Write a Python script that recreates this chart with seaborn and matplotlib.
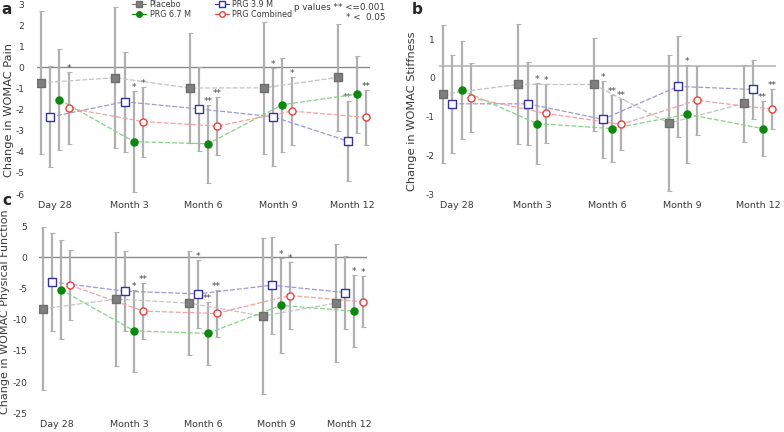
import matplotlib
matplotlib.use("Agg")
import matplotlib.pyplot as plt
from matplotlib.lines import Line2D
import seaborn as sns
import pandas as pd

visits = ["Day 28", "Month 3", "Month 6", "Month 9", "Month 12"]
groups = ["Placebo", "PRG 3.9 M", "PRG 6.7 M", "PRG Combined"]

# a: WOMAC Pain (mean change, SD)
pain_placebo = [-0.73, -0.49, -0.98, -0.97, -0.47]
pain_placebo_sd = [3.38, 3.34, 2.60, 3.12, 2.54]
pain_prg39 = [-2.35, -1.63, -1.97, -2.34, -3.49]
pain_prg39_sd = [2.39, 2.38, 2.00, 2.32, 1.90]
pain_prg67 = [-1.53, -3.52, -3.62, -1.77, -1.27]
pain_prg67_sd = [2.40, 2.40, 1.84, 2.23, 1.83]
pain_comb = [-1.93, -2.57, -2.78, -2.07, -2.37]
pain_comb_sd = [1.70, 1.66, 1.37, 1.59, 1.30]
pain_stars_placebo = ["", "", "", "", ""]
pain_stars_prg39 = ["", "", "", "*", "**"]
pain_stars_prg67 = ["", "*", "**", "", ""]
pain_stars_comb = ["*", "*", "**", "*", "**"]

# b: WOMAC Stiffness
stiff_placebo = [-0.42, -0.17, -0.17, -1.17, -0.66]
stiff_placebo_sd = [1.79, 1.55, 1.20, 1.75, 1.00]
stiff_prg39 = [-0.67, -0.67, -1.07, -0.22, -0.30]
stiff_prg39_sd = [1.26, 1.07, 0.99, 1.30, 0.75]
stiff_prg67 = [-0.32, -1.18, -1.31, -0.94, -1.31]
stiff_prg67_sd = [1.26, 1.05, 0.87, 1.27, 0.72]
stiff_comb = [-0.51, -0.92, -1.20, -0.58, -0.81]
stiff_comb_sd = [0.90, 0.77, 0.66, 0.89, 0.52]
stiff_stars_placebo = ["", "", "", "", ""]
stiff_stars_prg39 = ["", "", "*", "", ""]
stiff_stars_prg67 = ["", "*", "**", "*", "**"]
stiff_stars_comb = ["", "*", "**", "", "**"]

# c: WOMAC Physical Function
func_placebo = [-8.24, -6.70, -7.34, -9.41, -7.34]
func_placebo_sd = [13.1, 10.7, 8.3, 12.5, 9.4]
func_prg39 = [-3.94, -5.43, -5.85, -4.47, -5.64]
func_prg39_sd = [7.9, 6.4, 5.5, 7.8, 5.85]
func_prg67 = [-5.21, -11.80, -12.20, -7.71, -8.62]
func_prg67_sd = [7.95, 6.5, 5.05, 7.6, 5.75]
func_comb = [-4.47, -8.62, -9.00, -6.12, -7.13]
func_comb_sd = [5.6, 4.55, 3.75, 5.4, 4.1]
func_stars_placebo = ["", "", "", "", ""]
func_stars_prg39 = ["", "", "*", "", ""]
func_stars_prg67 = ["", "*", "**", "*", "*"]
func_stars_comb = ["", "**", "**", "*", "*"]

offsets = {"Placebo": -0.185, "PRG 3.9 M": -0.062, "PRG 6.7 M": 0.062, "PRG Combined": 0.185}
styles = {
    "Placebo": dict(marker="s", face="#7f7f7f", edge="#6e6e6e", line="#c4c4c4"),
    "PRG 3.9 M": dict(marker="s", face="white", edge="#33339a", line="#9c9cd2"),
    "PRG 6.7 M": dict(marker="o", face="#0d870d", edge="#0d870d", line="#8ccf8c"),
    "PRG Combined": dict(marker="o", face="white", edge="#e8403a", line="#f2a3a0"),
}
ERR = "#b0b0b0"
TXT = "#3a3a3a"

sns.set_style("white")
plt.rcParams["font.family"] = ["DejaVu Sans"]


def make_frame(means, sds, stars):
    rows = []
    for g, m, s, st in zip(groups, means, sds, stars):
        for i, v in enumerate(visits):
            rows.append({"group": g, "visit": v, "vi": i, "mean": m[i], "sd": s[i], "star": st[i]})
    return pd.DataFrame(rows)


def draw_panel(ax, df, ylim, yticks, hline_y, hline_color, hline_lw, ypad):
    df = df.copy()
    df["x"] = df["vi"] + df["group"].map(offsets)
    ax.axhline(hline_y, color=hline_color, lw=hline_lw, zorder=1)
    for g in groups:
        sub = df[df["group"] == g]
        st = styles[g]
        ax.errorbar(sub["x"], sub["mean"], yerr=sub["sd"], fmt="none", ecolor=ERR,
                    elinewidth=1.6, capsize=1.8, capthick=0.8, zorder=2)
        sns.lineplot(data=sub, x="x", y="mean", ax=ax, color=st["line"], lw=0.9,
                     linestyle=(0, (4, 1.5)), errorbar=None, legend=False, zorder=3)
        sns.scatterplot(data=sub, x="x", y="mean", ax=ax, marker=st["marker"], s=26,
                        color=st["face"], edgecolor=st["edge"], linewidth=1.0,
                        legend=False, zorder=4)
        for _, r in sub.iterrows():
            if r["star"]:
                ax.annotate(r["star"], (r["x"], r["mean"] + r["sd"]), xytext=(0, 2.5),
                            textcoords="offset points", ha="center", va="center",
                            fontsize=6.5, color="#444444")
    ax.set_xlim(-0.24, 4.24)
    ax.set_ylim(*ylim)
    ax.set_yticks(yticks)
    ax.set_yticklabels([str(t) for t in yticks])
    ax.set_xticks(range(len(visits)))
    ax.set_xticklabels(visits)
    ax.set_xlabel("")
    ax.set_ylabel("")
    ax.tick_params(axis="x", length=0, pad=5, labelsize=6.8, labelcolor=TXT)
    ax.tick_params(axis="y", length=0, pad=ypad, labelsize=6.6, labelcolor=TXT)
    for sp in ax.spines.values():
        sp.set_visible(False)
    ax.patch.set_alpha(0)


W, H = 784, 432
fig = plt.figure(figsize=(7.84, 4.32), dpi=100)


def box(left, right, top, bottom):
    return [left / W, 1 - bottom / H, (right - left) / W, (bottom - top) / H]


ax_a = fig.add_axes(box(37, 370, 4, 194))
ax_b = fig.add_axes(box(439, 776, 8.2, 194))
ax_c = fig.add_axes(box(39, 367, 219.9, 413.3))

df_a = make_frame([pain_placebo, pain_prg39, pain_prg67, pain_comb],
                  [pain_placebo_sd, pain_prg39_sd, pain_prg67_sd, pain_comb_sd],
                  [pain_stars_placebo, pain_stars_prg39, pain_stars_prg67, pain_stars_comb])
df_b = make_frame([stiff_placebo, stiff_prg39, stiff_prg67, stiff_comb],
                  [stiff_placebo_sd, stiff_prg39_sd, stiff_prg67_sd, stiff_comb_sd],
                  [stiff_stars_placebo, stiff_stars_prg39, stiff_stars_prg67, stiff_stars_comb])
df_c = make_frame([func_placebo, func_prg39, func_prg67, func_comb],
                  [func_placebo_sd, func_prg39_sd, func_prg67_sd, func_comb_sd],
                  [func_stars_placebo, func_stars_prg39, func_stars_prg67, func_stars_comb])

draw_panel(ax_a, df_a, (-6, 3), list(range(-6, 4)), 0, "#8a8a8a", 1.0, 9)
draw_panel(ax_b, df_b, (-3, 1.8), [-3, -2, -1, 0, 1], 0.3, "#c2c2c2", 1.5, 3)
draw_panel(ax_c, df_c, (-25, 6), [-25, -20, -15, -10, -5, 0, 5], 0, "#8a8a8a", 1.0, 8.5)

# axis titles and panel letters
fig.text(9 / W, 1 - 110 / H, "Change in WOMAC Pain", rotation=90, ha="center", va="center",
         fontsize=8.2, color=TXT)
fig.text(412 / W, 1 - 111 / H, "Change in WOMAC Stiffness", rotation=90, ha="center", va="center",
         fontsize=8.2, color=TXT)
fig.text(5.5 / W, 1 - 312 / H, "Change in WOMAC Physical Function", rotation=90, ha="center",
         va="center", fontsize=8.0, color=TXT)
fig.text(7 / W, 1 - 10 / H, "a", fontsize=11, fontweight="bold", ha="center", va="center")
fig.text(417 / W, 1 - 10 / H, "b", fontsize=11, fontweight="bold", ha="center", va="center")
fig.text(7 / W, 1 - 200 / H, "c", fontsize=11, fontweight="bold", ha="center", va="center")

# legend
handles = []
for g in ["Placebo", "PRG 6.7 M", "PRG 3.9 M", "PRG Combined"]:
    st = styles[g]
    handles.append(Line2D([0], [0], color=st["edge"], lw=0.8, marker=st["marker"], markersize=4,
                          markerfacecolor=st["face"], markeredgecolor=st["edge"]))
fig.legend(handles, ["Placebo", "PRG 6.7 M", "PRG 3.9 M", "PRG Combined"], ncol=2,
           loc="upper left", bbox_to_anchor=(131 / W, 1.003), frameon=False, fontsize=5.8,
           handlelength=1.8, handletextpad=0.4, columnspacing=3.0, labelspacing=0.2,
           borderaxespad=0, borderpad=0.1, labelcolor=TXT)

fig.text(385 / W, 1 - 7 / H, "p values ** <=0.001", ha="right", va="center", fontsize=6.3, color=TXT)
fig.text(385 / W, 1 - 17 / H, "* <  0.05", ha="right", va="center", fontsize=6.3, color=TXT)

fig.savefig("out.png", dpi=100)
